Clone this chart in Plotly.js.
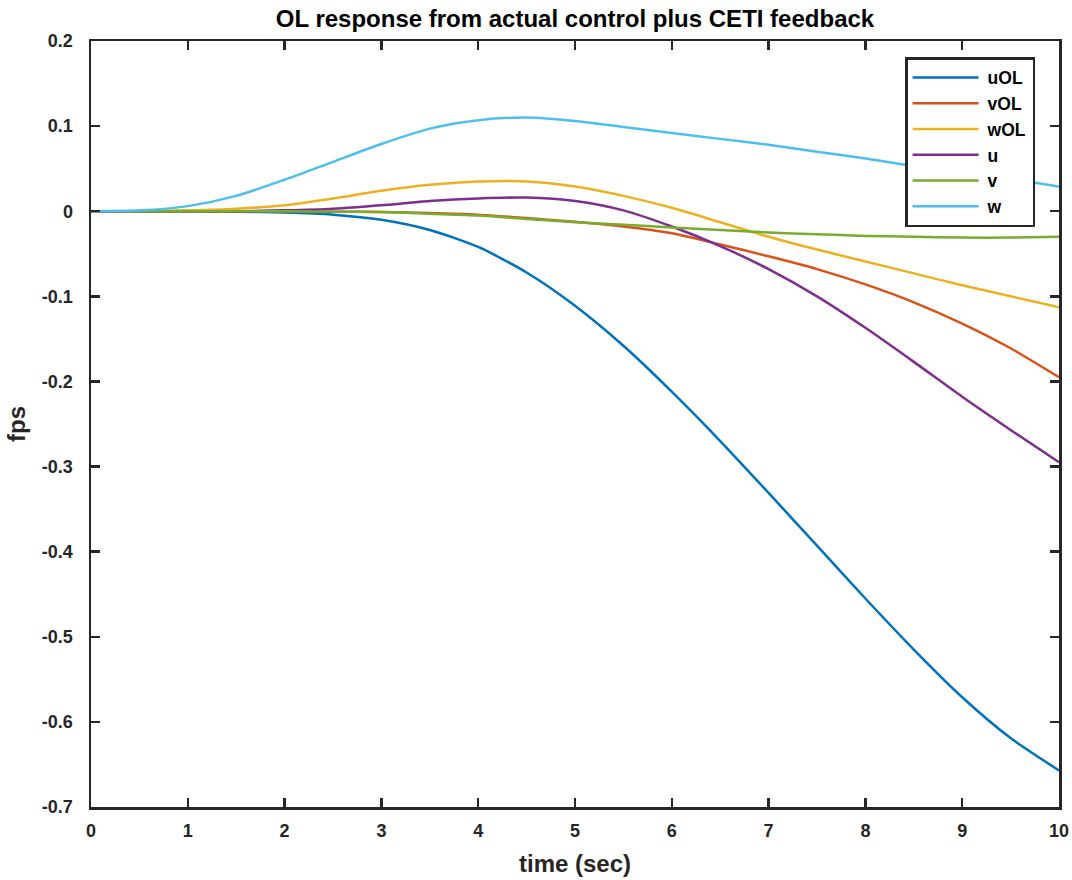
<!DOCTYPE html>
<html>
<head>
<meta charset="utf-8">
<script src="https://cdn.plot.ly/plotly-3.0.1.min.js"></script>
<style>html,body{margin:0;padding:0;background:#fff;}#chart{width:1072px;height:880px;}</style>
</head>
<body>
<div id="chart"></div>
<script>
var time = [0,0.5,1,1.5,2,2.5,3,3.5,4,4.5,5,5.5,6,6.5,7,7.5,8,8.5,9,9.5,10];
var uOL = [0,0,0,-0.0005,-0.0015,-0.004,-0.010,-0.022,-0.042,-0.072,-0.111,-0.158,-0.212,-0.270,-0.331,-0.393,-0.455,-0.515,-0.571,-0.619,-0.657];
var vOL = [0,0,0,0,0,-0.0005,-0.001,-0.002,-0.004,-0.008,-0.0125,-0.018,-0.026,-0.039,-0.053,-0.068,-0.086,-0.107,-0.132,-0.161,-0.195];
var wOL = [0,0,0.001,0.003,0.007,0.015,0.024,0.031,0.035,0.035,0.029,0.018,0.004,-0.013,-0.030,-0.045,-0.059,-0.073,-0.087,-0.100,-0.113];
var u = [0,0,0,0,0.001,0.003,0.007,0.012,0.015,0.016,0.012,0.001,-0.018,-0.041,-0.068,-0.100,-0.137,-0.177,-0.218,-0.257,-0.295];
var v = [0,0,0,0,0,-0.0005,-0.001,-0.003,-0.005,-0.009,-0.013,-0.016,-0.019,-0.022,-0.025,-0.027,-0.029,-0.030,-0.031,-0.031,-0.030];
var w = [0,0.001,0.006,0.018,0.037,0.058,0.079,0.097,0.107,0.110,0.106,0.099,0.092,0.085,0.078,0.070,0.062,0.053,0.046,0.038,0.029];
var seriesNames = ['uOL','vOL','wOL','u','v','w'];
var seriesData = [uOL, vOL, wOL, u, v, w];
var colors = ['#0072BD','#D95319','#EDB120','#7E2F8E','#77AC30','#4DBEEE'];
var xTicks = [0,1,2,3,4,5,6,7,8,9,10];
var yTicks = [0.2,0.1,0,-0.1,-0.2,-0.3,-0.4,-0.5,-0.6,-0.7];

var font = 'Arial, "Liberation Sans", sans-serif';
var traces = seriesNames.map(function(n,i){
  return {x: time, y: seriesData[i], name: n, type: 'scatter', mode: 'lines',
          line: {color: colors[i], width: 2.5, shape: 'spline', smoothing: 0.7}};
});
var axisCommon = {
  showline: true, mirror: 'ticks', linecolor: '#262626', linewidth: 2.5,
  ticks: 'inside', ticklen: 9, tickwidth: 2.5, tickcolor: '#262626',
  showgrid: false, zeroline: false,
  tickfont: {family: font, size: 18, color: '#262626', weight: 'bold'}
};
var layout = {
  width: 1072, height: 880,
  paper_bgcolor: '#fff', plot_bgcolor: '#fff',
  margin: {l: 91, r: 13, t: 41, b: 73},
  title: {text: '<b>OL response from actual control plus CETI feedback</b>', font: {family: font, size: 24, color: '#000'},
          xref: 'paper', x: 0.5, xanchor: 'center', yref: 'container', y: 0.979, yanchor: 'middle'},
  xaxis: Object.assign({}, axisCommon, {range: [0,10], tickvals: xTicks, ticktext: xTicks.map(String),
          ticklabelstandoff: 6,
          title: {text: '<b>time (sec)</b>', font: {family: font, size: 24, color: '#262626'}, standoff: 15}}),
  yaxis: Object.assign({}, axisCommon, {range: [-0.7,0.2], tickvals: yTicks, ticktext: yTicks.map(function(t){return t===0?'0':String(t);}),
          ticklabelstandoff: 12,
          title: {text: '<b>fps</b>', font: {family: font, size: 24, color: '#262626'}, standoff: 10}}),
  showlegend: true,
  legend: {x: 0.841, y: 0.979, xanchor: 'left', yanchor: 'top', bgcolor: '#fff',
           bordercolor: '#262626', borderwidth: 2.5,
           font: {family: font, size: 17.5, color: '#000', weight: 'bold'},
           itemwidth: 70, tracegroupgap: 0, entrywidth: 128, entrywidthmode: 'pixels'}
};
Plotly.newPlot('chart', traces, layout, {displayModeBar: false, staticPlot: true}).then(function(){
  document.querySelectorAll('.legend .legendlines path').forEach(function(p){ p.setAttribute('d','M5,0h66'); });
});
</script>
</body>
</html>
